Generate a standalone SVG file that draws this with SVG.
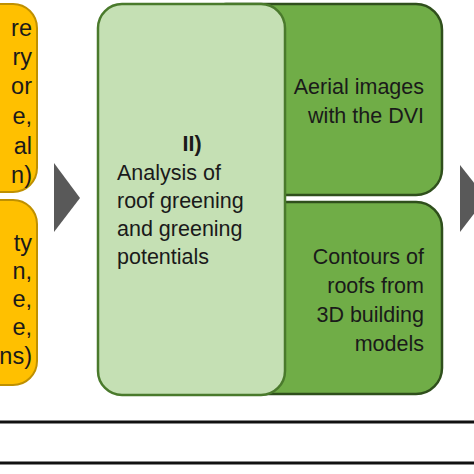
<svg xmlns="http://www.w3.org/2000/svg" width="474" height="474" viewBox="0 0 474 474">
<style>
text{font-family:"Liberation Sans",Arial,sans-serif;font-size:21.5px;fill:#1a1a1a}
.yt{font-size:23.5px}
.y{fill:#ffc000;stroke:#bf9000;stroke-width:2}
.lg{fill:#c5e0b4;stroke:#4a7a2c;stroke-width:2.5}
.dg{fill:#70ad47;stroke:#2f4f1c;stroke-width:2.5}
.e{text-anchor:end}
.arr{fill:#595959}
.rule{stroke:#111;stroke-width:3}
</style>
<rect width="474" height="474" fill="#fff"/>
<g id="yellow1">
<rect class="y" x="-40" y="4" width="77" height="188" rx="24"/>
<text class="e yt" x="32" y="36">re</text>
<text class="e yt" x="32" y="65">ry</text>
<text class="e yt" x="32" y="94">or</text>
<text class="e yt" x="32" y="124">e,</text>
<text class="e yt" x="32" y="154">al</text>
<text class="e yt" x="32" y="183">n)</text>
</g>
<g id="yellow2">
<rect class="y" x="-40" y="200" width="77" height="185" rx="24"/>
<text class="e yt" x="32" y="251">ty</text>
<text class="e yt" x="32" y="279">n,</text>
<text class="e yt" x="32" y="307">e,</text>
<text class="e yt" x="32" y="335">e,</text>
<text class="e yt" x="32" y="364">ns)</text>
</g>
<g id="aerial">
<rect class="dg" x="200" y="4" width="242" height="191" rx="26"/>
<text class="e" x="424" y="94">Aerial images</text>
<text class="e" x="424" y="123">with the DVI</text>
</g>
<g id="contours">
<rect class="dg" x="200" y="202" width="242" height="192" rx="26"/>
<text class="e" x="424" y="264">Contours of</text>
<text class="e" x="424" y="293">roofs from</text>
<text class="e" x="424" y="322">3D building</text>
<text class="e" x="424" y="351">models</text>
</g>
<g id="analysis">
<rect class="lg" x="98" y="4" width="187" height="391" rx="24"/>
<text x="192" y="151" text-anchor="middle" font-weight="bold">II)</text>
<text x="117" y="180">Analysis of</text>
<text x="117" y="208">roof greening</text>
<text x="117" y="236">and greening</text>
<text x="117" y="264">potentials</text>
</g>
<g id="connectors">
<polygon class="arr" points="54,163 80,198 54,232"/>
<polygon class="arr" points="460,165 486,198 460,232"/>
</g>
<g id="frame">
<line class="rule" x1="0" y1="422" x2="474" y2="422"/>
<line class="rule" x1="0" y1="463" x2="474" y2="463"/>
</g>
</svg>
